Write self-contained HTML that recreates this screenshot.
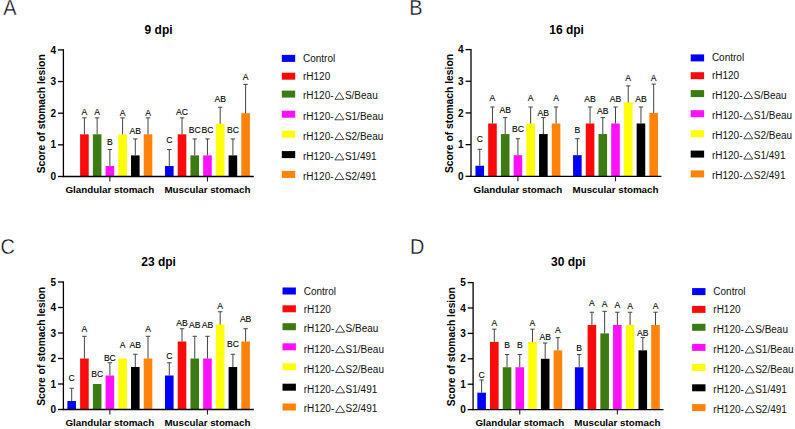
<!DOCTYPE html>
<html><head><meta charset="utf-8"><style>
html,body{margin:0;padding:0;background:#fff;}
body{width:795px;height:429px;overflow:hidden;}
svg{display:block;font-family:"Liberation Sans", sans-serif;}
</style></head><body>
<svg width="795" height="429" viewBox="0 0 795 429">
<rect x="0" y="0" width="795" height="429" fill="#fff"/>
<text x="0" y="0" transform="translate(3.3,15.0) scale(0.95,1.07)" font-size="21" fill="#0a0a14" stroke="#fff" stroke-width="0.35">A</text>
<text x="158.60" y="34.00" font-size="12" font-weight="bold" text-anchor="middle" fill="#000">9 dpi</text>
<text x="0" y="0" transform="translate(45.10,113.80) rotate(-90)" font-size="10.3" font-weight="bold" text-anchor="middle" fill="#000">Score of stomach lesion</text>
<line x1="58.00" y1="176.50" x2="63.40" y2="176.50" stroke="#000" stroke-width="1.3"/>
<text x="56.00" y="180.10" font-size="10" font-weight="bold" text-anchor="end" fill="#000">0</text>
<line x1="58.00" y1="144.85" x2="63.40" y2="144.85" stroke="#000" stroke-width="1.3"/>
<text x="56.00" y="148.45" font-size="10" font-weight="bold" text-anchor="end" fill="#000">1</text>
<line x1="58.00" y1="113.20" x2="63.40" y2="113.20" stroke="#000" stroke-width="1.3"/>
<text x="56.00" y="116.80" font-size="10" font-weight="bold" text-anchor="end" fill="#000">2</text>
<line x1="58.00" y1="81.55" x2="63.40" y2="81.55" stroke="#000" stroke-width="1.3"/>
<text x="56.00" y="85.15" font-size="10" font-weight="bold" text-anchor="end" fill="#000">3</text>
<line x1="58.00" y1="49.90" x2="63.40" y2="49.90" stroke="#000" stroke-width="1.3"/>
<text x="56.00" y="53.50" font-size="10" font-weight="bold" text-anchor="end" fill="#000">4</text>
<rect x="80.12" y="134.31" width="8.6" height="42.19" fill="#fa0a0a"/>
<line x1="84.42" y1="117.85" x2="84.42" y2="134.31" stroke="#444" stroke-width="1"/>
<line x1="82.22" y1="117.85" x2="86.62" y2="117.85" stroke="#444" stroke-width="1"/>
<text x="84.42" y="115.00" font-size="8.6" text-anchor="middle" fill="#000" stroke="#000" stroke-width="0.1">A</text>
<rect x="92.84" y="134.31" width="8.6" height="42.19" fill="#3c7a14"/>
<line x1="97.14" y1="117.85" x2="97.14" y2="134.31" stroke="#444" stroke-width="1"/>
<line x1="94.94" y1="117.85" x2="99.34" y2="117.85" stroke="#444" stroke-width="1"/>
<text x="97.14" y="115.00" font-size="8.6" text-anchor="middle" fill="#000" stroke="#000" stroke-width="0.1">A</text>
<rect x="105.56" y="165.96" width="8.6" height="10.54" fill="#ff10ff"/>
<line x1="109.86" y1="149.50" x2="109.86" y2="165.96" stroke="#444" stroke-width="1"/>
<line x1="107.66" y1="149.50" x2="112.06" y2="149.50" stroke="#444" stroke-width="1"/>
<text x="109.86" y="145.40" font-size="8.6" text-anchor="middle" fill="#000" stroke="#000" stroke-width="0.1">B</text>
<rect x="118.28" y="134.31" width="8.6" height="42.19" fill="#ffff0a"/>
<line x1="122.58" y1="117.85" x2="122.58" y2="134.31" stroke="#444" stroke-width="1"/>
<line x1="120.38" y1="117.85" x2="124.78" y2="117.85" stroke="#444" stroke-width="1"/>
<text x="122.58" y="115.50" font-size="8.6" text-anchor="middle" fill="#000" stroke="#000" stroke-width="0.1">A</text>
<rect x="131.00" y="155.39" width="8.6" height="21.11" fill="#000000"/>
<line x1="135.30" y1="138.93" x2="135.30" y2="155.39" stroke="#444" stroke-width="1"/>
<line x1="133.10" y1="138.93" x2="137.50" y2="138.93" stroke="#444" stroke-width="1"/>
<text x="135.30" y="133.70" font-size="8.6" text-anchor="middle" fill="#000" stroke="#000" stroke-width="0.1">AB</text>
<rect x="143.72" y="134.31" width="8.6" height="42.19" fill="#ff820a"/>
<line x1="148.02" y1="117.85" x2="148.02" y2="134.31" stroke="#444" stroke-width="1"/>
<line x1="145.82" y1="117.85" x2="150.22" y2="117.85" stroke="#444" stroke-width="1"/>
<text x="148.02" y="115.50" font-size="8.6" text-anchor="middle" fill="#000" stroke="#000" stroke-width="0.1">A</text>
<line x1="109.86" y1="176.50" x2="109.86" y2="181.50" stroke="#222" stroke-width="1.1"/>
<text x="109.86" y="193.10" font-size="9.8" font-weight="bold" text-anchor="middle" fill="#000">Glandular stomach</text>
<rect x="165.00" y="165.96" width="8.6" height="10.54" fill="#0000fa"/>
<line x1="169.30" y1="149.50" x2="169.30" y2="165.96" stroke="#444" stroke-width="1"/>
<line x1="167.10" y1="149.50" x2="171.50" y2="149.50" stroke="#444" stroke-width="1"/>
<text x="169.30" y="143.10" font-size="8.6" text-anchor="middle" fill="#000" stroke="#000" stroke-width="0.1">C</text>
<rect x="177.72" y="134.31" width="8.6" height="42.19" fill="#fa0a0a"/>
<line x1="182.02" y1="117.85" x2="182.02" y2="134.31" stroke="#444" stroke-width="1"/>
<line x1="179.82" y1="117.85" x2="184.22" y2="117.85" stroke="#444" stroke-width="1"/>
<text x="182.02" y="114.90" font-size="8.6" text-anchor="middle" fill="#000" stroke="#000" stroke-width="0.1">AC</text>
<rect x="190.44" y="155.39" width="8.6" height="21.11" fill="#3c7a14"/>
<line x1="194.74" y1="138.93" x2="194.74" y2="155.39" stroke="#444" stroke-width="1"/>
<line x1="192.54" y1="138.93" x2="196.94" y2="138.93" stroke="#444" stroke-width="1"/>
<text x="194.74" y="132.70" font-size="8.6" text-anchor="middle" fill="#000" stroke="#000" stroke-width="0.1">BC</text>
<rect x="203.16" y="155.39" width="8.6" height="21.11" fill="#ff10ff"/>
<line x1="207.46" y1="138.93" x2="207.46" y2="155.39" stroke="#444" stroke-width="1"/>
<line x1="205.26" y1="138.93" x2="209.66" y2="138.93" stroke="#444" stroke-width="1"/>
<text x="207.46" y="132.70" font-size="8.6" text-anchor="middle" fill="#000" stroke="#000" stroke-width="0.1">BC</text>
<rect x="215.88" y="123.74" width="8.6" height="52.76" fill="#ffff0a"/>
<line x1="220.18" y1="107.28" x2="220.18" y2="123.74" stroke="#444" stroke-width="1"/>
<line x1="217.98" y1="107.28" x2="222.38" y2="107.28" stroke="#444" stroke-width="1"/>
<text x="220.18" y="102.20" font-size="8.6" text-anchor="middle" fill="#000" stroke="#000" stroke-width="0.1">AB</text>
<rect x="228.60" y="155.39" width="8.6" height="21.11" fill="#000000"/>
<line x1="232.90" y1="138.93" x2="232.90" y2="155.39" stroke="#444" stroke-width="1"/>
<line x1="230.70" y1="138.93" x2="235.10" y2="138.93" stroke="#444" stroke-width="1"/>
<text x="232.90" y="133.20" font-size="8.6" text-anchor="middle" fill="#000" stroke="#000" stroke-width="0.1">BC</text>
<rect x="241.32" y="113.20" width="8.6" height="63.30" fill="#ff820a"/>
<line x1="245.62" y1="84.40" x2="245.62" y2="113.20" stroke="#444" stroke-width="1"/>
<line x1="243.42" y1="84.40" x2="247.82" y2="84.40" stroke="#444" stroke-width="1"/>
<text x="245.62" y="79.90" font-size="8.6" text-anchor="middle" fill="#000" stroke="#000" stroke-width="0.1">A</text>
<line x1="207.46" y1="176.50" x2="207.46" y2="181.50" stroke="#222" stroke-width="1.1"/>
<text x="207.46" y="193.10" font-size="9.8" font-weight="bold" text-anchor="middle" fill="#000">Muscular stomach</text>
<line x1="63.40" y1="49.25" x2="63.40" y2="177.15" stroke="#000" stroke-width="1.3"/>
<line x1="62.75" y1="176.50" x2="253.80" y2="176.50" stroke="#000" stroke-width="1.3"/>
<rect x="281.80" y="54.90" width="13.4" height="7" fill="#0000fa"/>
<text x="303.00" y="62.00" font-size="10" fill="#111">Control</text>
<rect x="281.80" y="72.70" width="13.4" height="7" fill="#fa0a0a"/>
<text x="303.00" y="79.80" font-size="10" fill="#111">rH120</text>
<rect x="281.80" y="90.60" width="13.4" height="7" fill="#3c7a14"/>
<text x="303.00" y="99.30" font-size="10" fill="#111">rH120-</text>
<polygon points="334.90,99.30 343.90,99.30 339.40,92.50" fill="none" stroke="#1a1a1a" stroke-width="0.8"/>
<text x="344.90" y="99.30" font-size="10" fill="#111">S/Beau</text>
<rect x="281.80" y="110.70" width="13.4" height="7" fill="#ff10ff"/>
<text x="303.00" y="119.80" font-size="10" fill="#111">rH120-</text>
<polygon points="334.90,119.80 343.90,119.80 339.40,113.00" fill="none" stroke="#1a1a1a" stroke-width="0.8"/>
<text x="344.90" y="119.80" font-size="10" fill="#111">S1/Beau</text>
<rect x="281.80" y="130.70" width="13.4" height="7" fill="#ffff0a"/>
<text x="303.00" y="139.60" font-size="10" fill="#111">rH120-</text>
<polygon points="334.90,139.60 343.90,139.60 339.40,132.80" fill="none" stroke="#1a1a1a" stroke-width="0.8"/>
<text x="344.90" y="139.60" font-size="10" fill="#111">S2/Beau</text>
<rect x="281.80" y="151.10" width="13.4" height="7" fill="#000000"/>
<text x="303.00" y="159.90" font-size="10" fill="#111">rH120-</text>
<polygon points="334.90,159.90 343.90,159.90 339.40,153.10" fill="none" stroke="#1a1a1a" stroke-width="0.8"/>
<text x="344.90" y="159.90" font-size="10" fill="#111">S1/491</text>
<rect x="281.80" y="170.90" width="13.4" height="7" fill="#ff820a"/>
<text x="303.00" y="179.50" font-size="10" fill="#111">rH120-</text>
<polygon points="334.90,179.50 343.90,179.50 339.40,172.70" fill="none" stroke="#1a1a1a" stroke-width="0.8"/>
<text x="344.90" y="179.50" font-size="10" fill="#111">S2/491</text>
<text x="0" y="0" transform="translate(409.3,15.0) scale(0.95,1.07)" font-size="21" fill="#0a0a14" stroke="#fff" stroke-width="0.35">B</text>
<text x="566.60" y="34.40" font-size="12" font-weight="bold" text-anchor="middle" fill="#000">16 dpi</text>
<text x="0" y="0" transform="translate(452.70,113.54) rotate(-90)" font-size="10.3" font-weight="bold" text-anchor="middle" fill="#000">Score of stomach lesion</text>
<line x1="465.60" y1="176.30" x2="471.00" y2="176.30" stroke="#000" stroke-width="1.3"/>
<text x="463.60" y="179.90" font-size="10" font-weight="bold" text-anchor="end" fill="#000">0</text>
<line x1="465.60" y1="144.62" x2="471.00" y2="144.62" stroke="#000" stroke-width="1.3"/>
<text x="463.60" y="148.22" font-size="10" font-weight="bold" text-anchor="end" fill="#000">1</text>
<line x1="465.60" y1="112.94" x2="471.00" y2="112.94" stroke="#000" stroke-width="1.3"/>
<text x="463.60" y="116.54" font-size="10" font-weight="bold" text-anchor="end" fill="#000">2</text>
<line x1="465.60" y1="81.26" x2="471.00" y2="81.26" stroke="#000" stroke-width="1.3"/>
<text x="463.60" y="84.86" font-size="10" font-weight="bold" text-anchor="end" fill="#000">3</text>
<line x1="465.60" y1="49.58" x2="471.00" y2="49.58" stroke="#000" stroke-width="1.3"/>
<text x="463.60" y="53.18" font-size="10" font-weight="bold" text-anchor="end" fill="#000">4</text>
<rect x="475.45" y="165.75" width="8.6" height="10.55" fill="#0000fa"/>
<line x1="479.75" y1="149.28" x2="479.75" y2="165.75" stroke="#444" stroke-width="1"/>
<line x1="477.55" y1="149.28" x2="481.95" y2="149.28" stroke="#444" stroke-width="1"/>
<text x="479.75" y="142.10" font-size="8.6" text-anchor="middle" fill="#000" stroke="#000" stroke-width="0.1">C</text>
<rect x="488.17" y="123.49" width="8.6" height="52.81" fill="#fa0a0a"/>
<line x1="492.47" y1="107.02" x2="492.47" y2="123.49" stroke="#444" stroke-width="1"/>
<line x1="490.27" y1="107.02" x2="494.67" y2="107.02" stroke="#444" stroke-width="1"/>
<text x="492.47" y="101.30" font-size="8.6" text-anchor="middle" fill="#000" stroke="#000" stroke-width="0.1">A</text>
<rect x="500.89" y="134.07" width="8.6" height="42.23" fill="#3c7a14"/>
<line x1="505.19" y1="117.60" x2="505.19" y2="134.07" stroke="#444" stroke-width="1"/>
<line x1="502.99" y1="117.60" x2="507.39" y2="117.60" stroke="#444" stroke-width="1"/>
<text x="505.19" y="113.40" font-size="8.6" text-anchor="middle" fill="#000" stroke="#000" stroke-width="0.1">AB</text>
<rect x="513.61" y="155.17" width="8.6" height="21.13" fill="#ff10ff"/>
<line x1="517.91" y1="138.70" x2="517.91" y2="155.17" stroke="#444" stroke-width="1"/>
<line x1="515.71" y1="138.70" x2="520.11" y2="138.70" stroke="#444" stroke-width="1"/>
<text x="517.91" y="132.00" font-size="8.6" text-anchor="middle" fill="#000" stroke="#000" stroke-width="0.1">BC</text>
<rect x="526.33" y="123.49" width="8.6" height="52.81" fill="#ffff0a"/>
<line x1="530.63" y1="107.02" x2="530.63" y2="123.49" stroke="#444" stroke-width="1"/>
<line x1="528.43" y1="107.02" x2="532.83" y2="107.02" stroke="#444" stroke-width="1"/>
<text x="530.63" y="101.30" font-size="8.6" text-anchor="middle" fill="#000" stroke="#000" stroke-width="0.1">A</text>
<rect x="539.05" y="134.07" width="8.6" height="42.23" fill="#000000"/>
<line x1="543.35" y1="117.60" x2="543.35" y2="134.07" stroke="#444" stroke-width="1"/>
<line x1="541.15" y1="117.60" x2="545.55" y2="117.60" stroke="#444" stroke-width="1"/>
<text x="543.35" y="115.50" font-size="8.6" text-anchor="middle" fill="#000" stroke="#000" stroke-width="0.1">AB</text>
<rect x="551.77" y="123.49" width="8.6" height="52.81" fill="#ff820a"/>
<line x1="556.07" y1="107.02" x2="556.07" y2="123.49" stroke="#444" stroke-width="1"/>
<line x1="553.87" y1="107.02" x2="558.27" y2="107.02" stroke="#444" stroke-width="1"/>
<text x="556.07" y="101.30" font-size="8.6" text-anchor="middle" fill="#000" stroke="#000" stroke-width="0.1">A</text>
<line x1="517.91" y1="176.30" x2="517.91" y2="181.30" stroke="#222" stroke-width="1.1"/>
<text x="517.91" y="192.90" font-size="9.8" font-weight="bold" text-anchor="middle" fill="#000">Glandular stomach</text>
<rect x="573.05" y="155.17" width="8.6" height="21.13" fill="#0000fa"/>
<line x1="577.35" y1="138.70" x2="577.35" y2="155.17" stroke="#444" stroke-width="1"/>
<line x1="575.15" y1="138.70" x2="579.55" y2="138.70" stroke="#444" stroke-width="1"/>
<text x="577.35" y="132.70" font-size="8.6" text-anchor="middle" fill="#000" stroke="#000" stroke-width="0.1">B</text>
<rect x="585.77" y="123.49" width="8.6" height="52.81" fill="#fa0a0a"/>
<line x1="590.07" y1="107.02" x2="590.07" y2="123.49" stroke="#444" stroke-width="1"/>
<line x1="587.87" y1="107.02" x2="592.27" y2="107.02" stroke="#444" stroke-width="1"/>
<text x="590.07" y="102.00" font-size="8.6" text-anchor="middle" fill="#000" stroke="#000" stroke-width="0.1">AB</text>
<rect x="598.49" y="134.07" width="8.6" height="42.23" fill="#3c7a14"/>
<line x1="602.79" y1="117.60" x2="602.79" y2="134.07" stroke="#444" stroke-width="1"/>
<line x1="600.59" y1="117.60" x2="604.99" y2="117.60" stroke="#444" stroke-width="1"/>
<text x="602.79" y="113.60" font-size="8.6" text-anchor="middle" fill="#000" stroke="#000" stroke-width="0.1">AB</text>
<rect x="611.21" y="123.49" width="8.6" height="52.81" fill="#ff10ff"/>
<line x1="615.51" y1="107.02" x2="615.51" y2="123.49" stroke="#444" stroke-width="1"/>
<line x1="613.31" y1="107.02" x2="617.71" y2="107.02" stroke="#444" stroke-width="1"/>
<text x="615.51" y="102.00" font-size="8.6" text-anchor="middle" fill="#000" stroke="#000" stroke-width="0.1">AB</text>
<rect x="623.93" y="102.39" width="8.6" height="73.91" fill="#ffff0a"/>
<line x1="628.23" y1="85.92" x2="628.23" y2="102.39" stroke="#444" stroke-width="1"/>
<line x1="626.03" y1="85.92" x2="630.43" y2="85.92" stroke="#444" stroke-width="1"/>
<text x="628.23" y="80.50" font-size="8.6" text-anchor="middle" fill="#000" stroke="#000" stroke-width="0.1">A</text>
<rect x="636.65" y="123.49" width="8.6" height="52.81" fill="#000000"/>
<line x1="640.95" y1="107.02" x2="640.95" y2="123.49" stroke="#444" stroke-width="1"/>
<line x1="638.75" y1="107.02" x2="643.15" y2="107.02" stroke="#444" stroke-width="1"/>
<text x="640.95" y="102.00" font-size="8.6" text-anchor="middle" fill="#000" stroke="#000" stroke-width="0.1">AB</text>
<rect x="649.37" y="112.94" width="8.6" height="63.36" fill="#ff820a"/>
<line x1="653.67" y1="84.11" x2="653.67" y2="112.94" stroke="#444" stroke-width="1"/>
<line x1="651.47" y1="84.11" x2="655.87" y2="84.11" stroke="#444" stroke-width="1"/>
<text x="653.67" y="80.50" font-size="8.6" text-anchor="middle" fill="#000" stroke="#000" stroke-width="0.1">A</text>
<line x1="615.51" y1="176.30" x2="615.51" y2="181.30" stroke="#222" stroke-width="1.1"/>
<text x="615.51" y="192.90" font-size="9.8" font-weight="bold" text-anchor="middle" fill="#000">Muscular stomach</text>
<line x1="471.00" y1="48.93" x2="471.00" y2="176.95" stroke="#000" stroke-width="1.3"/>
<line x1="470.35" y1="176.30" x2="661.40" y2="176.30" stroke="#000" stroke-width="1.3"/>
<rect x="690.70" y="54.40" width="13.4" height="7" fill="#0000fa"/>
<text x="711.90" y="61.20" font-size="10" fill="#111">Control</text>
<rect x="690.70" y="72.20" width="13.4" height="7" fill="#fa0a0a"/>
<text x="711.90" y="79.00" font-size="10" fill="#111">rH120</text>
<rect x="690.70" y="90.10" width="13.4" height="7" fill="#3c7a14"/>
<text x="711.90" y="98.50" font-size="10" fill="#111">rH120-</text>
<polygon points="743.80,98.50 752.80,98.50 748.30,91.70" fill="none" stroke="#1a1a1a" stroke-width="0.8"/>
<text x="753.80" y="98.50" font-size="10" fill="#111">S/Beau</text>
<rect x="690.70" y="110.20" width="13.4" height="7" fill="#ff10ff"/>
<text x="711.90" y="119.00" font-size="10" fill="#111">rH120-</text>
<polygon points="743.80,119.00 752.80,119.00 748.30,112.20" fill="none" stroke="#1a1a1a" stroke-width="0.8"/>
<text x="753.80" y="119.00" font-size="10" fill="#111">S1/Beau</text>
<rect x="690.70" y="130.20" width="13.4" height="7" fill="#ffff0a"/>
<text x="711.90" y="138.80" font-size="10" fill="#111">rH120-</text>
<polygon points="743.80,138.80 752.80,138.80 748.30,132.00" fill="none" stroke="#1a1a1a" stroke-width="0.8"/>
<text x="753.80" y="138.80" font-size="10" fill="#111">S2/Beau</text>
<rect x="690.70" y="150.60" width="13.4" height="7" fill="#000000"/>
<text x="711.90" y="159.10" font-size="10" fill="#111">rH120-</text>
<polygon points="743.80,159.10 752.80,159.10 748.30,152.30" fill="none" stroke="#1a1a1a" stroke-width="0.8"/>
<text x="753.80" y="159.10" font-size="10" fill="#111">S1/491</text>
<rect x="690.70" y="170.40" width="13.4" height="7" fill="#ff820a"/>
<text x="711.90" y="178.70" font-size="10" fill="#111">rH120-</text>
<polygon points="743.80,178.70 752.80,178.70 748.30,171.90" fill="none" stroke="#1a1a1a" stroke-width="0.8"/>
<text x="753.80" y="178.70" font-size="10" fill="#111">S2/491</text>
<text x="0" y="0" transform="translate(0.6,254.3) scale(0.95,1.07)" font-size="21" fill="#0a0a14" stroke="#fff" stroke-width="0.35">C</text>
<text x="158.60" y="266.00" font-size="12" font-weight="bold" text-anchor="middle" fill="#000">23 dpi</text>
<text x="0" y="0" transform="translate(45.10,346.35) rotate(-90)" font-size="10.3" font-weight="bold" text-anchor="middle" fill="#000">Score of stomach lesion</text>
<line x1="58.00" y1="409.50" x2="63.40" y2="409.50" stroke="#000" stroke-width="1.3"/>
<text x="56.00" y="413.10" font-size="10" font-weight="bold" text-anchor="end" fill="#000">0</text>
<line x1="58.00" y1="384.00" x2="63.40" y2="384.00" stroke="#000" stroke-width="1.3"/>
<text x="56.00" y="387.60" font-size="10" font-weight="bold" text-anchor="end" fill="#000">1</text>
<line x1="58.00" y1="358.50" x2="63.40" y2="358.50" stroke="#000" stroke-width="1.3"/>
<text x="56.00" y="362.10" font-size="10" font-weight="bold" text-anchor="end" fill="#000">2</text>
<line x1="58.00" y1="333.00" x2="63.40" y2="333.00" stroke="#000" stroke-width="1.3"/>
<text x="56.00" y="336.60" font-size="10" font-weight="bold" text-anchor="end" fill="#000">3</text>
<line x1="58.00" y1="307.50" x2="63.40" y2="307.50" stroke="#000" stroke-width="1.3"/>
<text x="56.00" y="311.10" font-size="10" font-weight="bold" text-anchor="end" fill="#000">4</text>
<line x1="58.00" y1="282.00" x2="63.40" y2="282.00" stroke="#000" stroke-width="1.3"/>
<text x="56.00" y="285.60" font-size="10" font-weight="bold" text-anchor="end" fill="#000">5</text>
<rect x="67.40" y="401.01" width="8.6" height="8.49" fill="#0000fa"/>
<line x1="71.70" y1="388.26" x2="71.70" y2="401.01" stroke="#444" stroke-width="1"/>
<line x1="69.50" y1="388.26" x2="73.90" y2="388.26" stroke="#444" stroke-width="1"/>
<text x="71.70" y="380.60" font-size="8.6" text-anchor="middle" fill="#000" stroke="#000" stroke-width="0.1">C</text>
<rect x="80.12" y="358.50" width="8.6" height="51.00" fill="#fa0a0a"/>
<line x1="84.42" y1="336.31" x2="84.42" y2="358.50" stroke="#444" stroke-width="1"/>
<line x1="82.22" y1="336.31" x2="86.62" y2="336.31" stroke="#444" stroke-width="1"/>
<text x="84.42" y="331.80" font-size="8.6" text-anchor="middle" fill="#000" stroke="#000" stroke-width="0.1">A</text>
<rect x="92.84" y="384.00" width="8.6" height="25.50" fill="#3c7a14"/>
<text x="97.14" y="377.00" font-size="8.6" text-anchor="middle" fill="#000" stroke="#000" stroke-width="0.1">BC</text>
<rect x="105.56" y="375.51" width="8.6" height="33.99" fill="#ff10ff"/>
<line x1="109.86" y1="362.76" x2="109.86" y2="375.51" stroke="#444" stroke-width="1"/>
<line x1="107.66" y1="362.76" x2="112.06" y2="362.76" stroke="#444" stroke-width="1"/>
<text x="109.86" y="360.80" font-size="8.6" text-anchor="middle" fill="#000" stroke="#000" stroke-width="0.1">BC</text>
<rect x="118.28" y="358.50" width="8.6" height="51.00" fill="#ffff0a"/>
<text x="122.58" y="347.60" font-size="8.6" text-anchor="middle" fill="#000" stroke="#000" stroke-width="0.1">A</text>
<rect x="131.00" y="366.99" width="8.6" height="42.51" fill="#000000"/>
<line x1="135.30" y1="354.24" x2="135.30" y2="366.99" stroke="#444" stroke-width="1"/>
<line x1="133.10" y1="354.24" x2="137.50" y2="354.24" stroke="#444" stroke-width="1"/>
<text x="135.30" y="347.60" font-size="8.6" text-anchor="middle" fill="#000" stroke="#000" stroke-width="0.1">AB</text>
<rect x="143.72" y="358.50" width="8.6" height="51.00" fill="#ff820a"/>
<line x1="148.02" y1="336.31" x2="148.02" y2="358.50" stroke="#444" stroke-width="1"/>
<line x1="145.82" y1="336.31" x2="150.22" y2="336.31" stroke="#444" stroke-width="1"/>
<text x="148.02" y="331.80" font-size="8.6" text-anchor="middle" fill="#000" stroke="#000" stroke-width="0.1">A</text>
<line x1="109.86" y1="409.50" x2="109.86" y2="414.50" stroke="#222" stroke-width="1.1"/>
<text x="109.86" y="426.10" font-size="9.8" font-weight="bold" text-anchor="middle" fill="#000">Glandular stomach</text>
<rect x="165.00" y="375.51" width="8.6" height="33.99" fill="#0000fa"/>
<line x1="169.30" y1="362.76" x2="169.30" y2="375.51" stroke="#444" stroke-width="1"/>
<line x1="167.10" y1="362.76" x2="171.50" y2="362.76" stroke="#444" stroke-width="1"/>
<text x="169.30" y="359.20" font-size="8.6" text-anchor="middle" fill="#000" stroke="#000" stroke-width="0.1">C</text>
<rect x="177.72" y="341.49" width="8.6" height="68.01" fill="#fa0a0a"/>
<line x1="182.02" y1="328.74" x2="182.02" y2="341.49" stroke="#444" stroke-width="1"/>
<line x1="179.82" y1="328.74" x2="184.22" y2="328.74" stroke="#444" stroke-width="1"/>
<text x="182.02" y="326.00" font-size="8.6" text-anchor="middle" fill="#000" stroke="#000" stroke-width="0.1">AB</text>
<rect x="190.44" y="358.50" width="8.6" height="51.00" fill="#3c7a14"/>
<line x1="194.74" y1="336.31" x2="194.74" y2="358.50" stroke="#444" stroke-width="1"/>
<line x1="192.54" y1="336.31" x2="196.94" y2="336.31" stroke="#444" stroke-width="1"/>
<text x="194.74" y="327.90" font-size="8.6" text-anchor="middle" fill="#000" stroke="#000" stroke-width="0.1">AB</text>
<rect x="203.16" y="358.50" width="8.6" height="51.00" fill="#ff10ff"/>
<line x1="207.46" y1="336.31" x2="207.46" y2="358.50" stroke="#444" stroke-width="1"/>
<line x1="205.26" y1="336.31" x2="209.66" y2="336.31" stroke="#444" stroke-width="1"/>
<text x="207.46" y="328.20" font-size="8.6" text-anchor="middle" fill="#000" stroke="#000" stroke-width="0.1">AB</text>
<rect x="215.88" y="324.51" width="8.6" height="84.99" fill="#ffff0a"/>
<line x1="220.18" y1="311.76" x2="220.18" y2="324.51" stroke="#444" stroke-width="1"/>
<line x1="217.98" y1="311.76" x2="222.38" y2="311.76" stroke="#444" stroke-width="1"/>
<text x="220.18" y="308.90" font-size="8.6" text-anchor="middle" fill="#000" stroke="#000" stroke-width="0.1">A</text>
<rect x="228.60" y="366.99" width="8.6" height="42.51" fill="#000000"/>
<line x1="232.90" y1="354.24" x2="232.90" y2="366.99" stroke="#444" stroke-width="1"/>
<line x1="230.70" y1="354.24" x2="235.10" y2="354.24" stroke="#444" stroke-width="1"/>
<text x="232.90" y="346.50" font-size="8.6" text-anchor="middle" fill="#000" stroke="#000" stroke-width="0.1">BC</text>
<rect x="241.32" y="341.49" width="8.6" height="68.01" fill="#ff820a"/>
<line x1="245.62" y1="328.74" x2="245.62" y2="341.49" stroke="#444" stroke-width="1"/>
<line x1="243.42" y1="328.74" x2="247.82" y2="328.74" stroke="#444" stroke-width="1"/>
<text x="245.62" y="321.70" font-size="8.6" text-anchor="middle" fill="#000" stroke="#000" stroke-width="0.1">AB</text>
<line x1="207.46" y1="409.50" x2="207.46" y2="414.50" stroke="#222" stroke-width="1.1"/>
<text x="207.46" y="426.10" font-size="9.8" font-weight="bold" text-anchor="middle" fill="#000">Muscular stomach</text>
<line x1="63.40" y1="281.35" x2="63.40" y2="410.15" stroke="#000" stroke-width="1.3"/>
<line x1="62.75" y1="409.50" x2="253.80" y2="409.50" stroke="#000" stroke-width="1.3"/>
<rect x="282.50" y="287.50" width="13.4" height="7" fill="#0000fa"/>
<text x="303.70" y="294.90" font-size="10" fill="#111">Control</text>
<rect x="282.50" y="305.30" width="13.4" height="7" fill="#fa0a0a"/>
<text x="303.70" y="312.70" font-size="10" fill="#111">rH120</text>
<rect x="282.50" y="323.20" width="13.4" height="7" fill="#3c7a14"/>
<text x="303.70" y="332.20" font-size="10" fill="#111">rH120-</text>
<polygon points="335.60,332.20 344.60,332.20 340.10,325.40" fill="none" stroke="#1a1a1a" stroke-width="0.8"/>
<text x="345.60" y="332.20" font-size="10" fill="#111">S/Beau</text>
<rect x="282.50" y="343.30" width="13.4" height="7" fill="#ff10ff"/>
<text x="303.70" y="352.70" font-size="10" fill="#111">rH120-</text>
<polygon points="335.60,352.70 344.60,352.70 340.10,345.90" fill="none" stroke="#1a1a1a" stroke-width="0.8"/>
<text x="345.60" y="352.70" font-size="10" fill="#111">S1/Beau</text>
<rect x="282.50" y="363.30" width="13.4" height="7" fill="#ffff0a"/>
<text x="303.70" y="372.50" font-size="10" fill="#111">rH120-</text>
<polygon points="335.60,372.50 344.60,372.50 340.10,365.70" fill="none" stroke="#1a1a1a" stroke-width="0.8"/>
<text x="345.60" y="372.50" font-size="10" fill="#111">S2/Beau</text>
<rect x="282.50" y="383.70" width="13.4" height="7" fill="#000000"/>
<text x="303.70" y="392.80" font-size="10" fill="#111">rH120-</text>
<polygon points="335.60,392.80 344.60,392.80 340.10,386.00" fill="none" stroke="#1a1a1a" stroke-width="0.8"/>
<text x="345.60" y="392.80" font-size="10" fill="#111">S1/491</text>
<rect x="282.50" y="403.50" width="13.4" height="7" fill="#ff820a"/>
<text x="303.70" y="412.40" font-size="10" fill="#111">rH120-</text>
<polygon points="335.60,412.40 344.60,412.40 340.10,405.60" fill="none" stroke="#1a1a1a" stroke-width="0.8"/>
<text x="345.60" y="412.40" font-size="10" fill="#111">S2/491</text>
<text x="0" y="0" transform="translate(410.1,254.1) scale(0.95,1.07)" font-size="21" fill="#0a0a14" stroke="#fff" stroke-width="0.35">D</text>
<text x="568.30" y="266.10" font-size="12" font-weight="bold" text-anchor="middle" fill="#000">30 dpi</text>
<text x="0" y="0" transform="translate(454.80,346.70) rotate(-90)" font-size="10.3" font-weight="bold" text-anchor="middle" fill="#000">Score of stomach lesion</text>
<line x1="467.70" y1="409.60" x2="473.10" y2="409.60" stroke="#000" stroke-width="1.3"/>
<text x="465.70" y="413.20" font-size="10" font-weight="bold" text-anchor="end" fill="#000">0</text>
<line x1="467.70" y1="384.20" x2="473.10" y2="384.20" stroke="#000" stroke-width="1.3"/>
<text x="465.70" y="387.80" font-size="10" font-weight="bold" text-anchor="end" fill="#000">1</text>
<line x1="467.70" y1="358.80" x2="473.10" y2="358.80" stroke="#000" stroke-width="1.3"/>
<text x="465.70" y="362.40" font-size="10" font-weight="bold" text-anchor="end" fill="#000">2</text>
<line x1="467.70" y1="333.40" x2="473.10" y2="333.40" stroke="#000" stroke-width="1.3"/>
<text x="465.70" y="337.00" font-size="10" font-weight="bold" text-anchor="end" fill="#000">3</text>
<line x1="467.70" y1="308.00" x2="473.10" y2="308.00" stroke="#000" stroke-width="1.3"/>
<text x="465.70" y="311.60" font-size="10" font-weight="bold" text-anchor="end" fill="#000">4</text>
<line x1="467.70" y1="282.60" x2="473.10" y2="282.60" stroke="#000" stroke-width="1.3"/>
<text x="465.70" y="286.20" font-size="10" font-weight="bold" text-anchor="end" fill="#000">5</text>
<rect x="477.30" y="392.66" width="8.6" height="16.94" fill="#0000fa"/>
<line x1="481.60" y1="379.96" x2="481.60" y2="392.66" stroke="#444" stroke-width="1"/>
<line x1="479.40" y1="379.96" x2="483.80" y2="379.96" stroke="#444" stroke-width="1"/>
<text x="481.60" y="377.60" font-size="8.6" text-anchor="middle" fill="#000" stroke="#000" stroke-width="0.1">C</text>
<rect x="490.02" y="341.86" width="8.6" height="67.74" fill="#fa0a0a"/>
<line x1="494.32" y1="329.16" x2="494.32" y2="341.86" stroke="#444" stroke-width="1"/>
<line x1="492.12" y1="329.16" x2="496.52" y2="329.16" stroke="#444" stroke-width="1"/>
<text x="494.32" y="326.20" font-size="8.6" text-anchor="middle" fill="#000" stroke="#000" stroke-width="0.1">A</text>
<rect x="502.74" y="367.26" width="8.6" height="42.34" fill="#3c7a14"/>
<line x1="507.04" y1="354.56" x2="507.04" y2="367.26" stroke="#444" stroke-width="1"/>
<line x1="504.84" y1="354.56" x2="509.24" y2="354.56" stroke="#444" stroke-width="1"/>
<text x="507.04" y="347.80" font-size="8.6" text-anchor="middle" fill="#000" stroke="#000" stroke-width="0.1">B</text>
<rect x="515.46" y="367.26" width="8.6" height="42.34" fill="#ff10ff"/>
<line x1="519.76" y1="354.56" x2="519.76" y2="367.26" stroke="#444" stroke-width="1"/>
<line x1="517.56" y1="354.56" x2="521.96" y2="354.56" stroke="#444" stroke-width="1"/>
<text x="519.76" y="347.80" font-size="8.6" text-anchor="middle" fill="#000" stroke="#000" stroke-width="0.1">B</text>
<rect x="528.18" y="341.86" width="8.6" height="67.74" fill="#ffff0a"/>
<line x1="532.48" y1="329.16" x2="532.48" y2="341.86" stroke="#444" stroke-width="1"/>
<line x1="530.28" y1="329.16" x2="534.68" y2="329.16" stroke="#444" stroke-width="1"/>
<text x="532.48" y="326.20" font-size="8.6" text-anchor="middle" fill="#000" stroke="#000" stroke-width="0.1">A</text>
<rect x="540.90" y="358.80" width="8.6" height="50.80" fill="#000000"/>
<line x1="545.20" y1="343.05" x2="545.20" y2="358.80" stroke="#444" stroke-width="1"/>
<line x1="543.00" y1="343.05" x2="547.40" y2="343.05" stroke="#444" stroke-width="1"/>
<text x="545.20" y="340.30" font-size="8.6" text-anchor="middle" fill="#000" stroke="#000" stroke-width="0.1">AB</text>
<rect x="553.62" y="350.34" width="8.6" height="59.26" fill="#ff820a"/>
<line x1="557.92" y1="337.64" x2="557.92" y2="350.34" stroke="#444" stroke-width="1"/>
<line x1="555.72" y1="337.64" x2="560.12" y2="337.64" stroke="#444" stroke-width="1"/>
<text x="557.92" y="333.10" font-size="8.6" text-anchor="middle" fill="#000" stroke="#000" stroke-width="0.1">A</text>
<line x1="519.76" y1="409.60" x2="519.76" y2="414.60" stroke="#222" stroke-width="1.1"/>
<text x="519.76" y="426.20" font-size="9.8" font-weight="bold" text-anchor="middle" fill="#000">Glandular stomach</text>
<rect x="574.90" y="367.26" width="8.6" height="42.34" fill="#0000fa"/>
<line x1="579.20" y1="354.56" x2="579.20" y2="367.26" stroke="#444" stroke-width="1"/>
<line x1="577.00" y1="354.56" x2="581.40" y2="354.56" stroke="#444" stroke-width="1"/>
<text x="579.20" y="351.10" font-size="8.6" text-anchor="middle" fill="#000" stroke="#000" stroke-width="0.1">B</text>
<rect x="587.62" y="324.94" width="8.6" height="84.66" fill="#fa0a0a"/>
<line x1="591.92" y1="312.24" x2="591.92" y2="324.94" stroke="#444" stroke-width="1"/>
<line x1="589.72" y1="312.24" x2="594.12" y2="312.24" stroke="#444" stroke-width="1"/>
<text x="591.92" y="306.00" font-size="8.6" text-anchor="middle" fill="#000" stroke="#000" stroke-width="0.1">A</text>
<rect x="600.34" y="333.40" width="8.6" height="76.20" fill="#3c7a14"/>
<line x1="604.64" y1="311.30" x2="604.64" y2="333.40" stroke="#444" stroke-width="1"/>
<line x1="602.44" y1="311.30" x2="606.84" y2="311.30" stroke="#444" stroke-width="1"/>
<text x="604.64" y="307.00" font-size="8.6" text-anchor="middle" fill="#000" stroke="#000" stroke-width="0.1">A</text>
<rect x="613.06" y="324.94" width="8.6" height="84.66" fill="#ff10ff"/>
<line x1="617.36" y1="312.24" x2="617.36" y2="324.94" stroke="#444" stroke-width="1"/>
<line x1="615.16" y1="312.24" x2="619.56" y2="312.24" stroke="#444" stroke-width="1"/>
<text x="617.36" y="308.10" font-size="8.6" text-anchor="middle" fill="#000" stroke="#000" stroke-width="0.1">A</text>
<rect x="625.78" y="324.94" width="8.6" height="84.66" fill="#ffff0a"/>
<line x1="630.08" y1="312.24" x2="630.08" y2="324.94" stroke="#444" stroke-width="1"/>
<line x1="627.88" y1="312.24" x2="632.28" y2="312.24" stroke="#444" stroke-width="1"/>
<text x="630.08" y="309.10" font-size="8.6" text-anchor="middle" fill="#000" stroke="#000" stroke-width="0.1">A</text>
<rect x="638.50" y="350.34" width="8.6" height="59.26" fill="#000000"/>
<line x1="642.80" y1="337.64" x2="642.80" y2="350.34" stroke="#444" stroke-width="1"/>
<line x1="640.60" y1="337.64" x2="645.00" y2="337.64" stroke="#444" stroke-width="1"/>
<text x="642.80" y="336.40" font-size="8.6" text-anchor="middle" fill="#000" stroke="#000" stroke-width="0.1">AB</text>
<rect x="651.22" y="324.94" width="8.6" height="84.66" fill="#ff820a"/>
<line x1="655.52" y1="312.24" x2="655.52" y2="324.94" stroke="#444" stroke-width="1"/>
<line x1="653.32" y1="312.24" x2="657.72" y2="312.24" stroke="#444" stroke-width="1"/>
<text x="655.52" y="309.10" font-size="8.6" text-anchor="middle" fill="#000" stroke="#000" stroke-width="0.1">A</text>
<line x1="617.36" y1="409.60" x2="617.36" y2="414.60" stroke="#222" stroke-width="1.1"/>
<text x="617.36" y="426.20" font-size="9.8" font-weight="bold" text-anchor="middle" fill="#000">Muscular stomach</text>
<line x1="473.10" y1="281.95" x2="473.10" y2="410.25" stroke="#000" stroke-width="1.3"/>
<line x1="472.45" y1="409.60" x2="663.50" y2="409.60" stroke="#000" stroke-width="1.3"/>
<rect x="692.10" y="288.10" width="13.4" height="7" fill="#0000fa"/>
<text x="713.30" y="295.20" font-size="10" fill="#111">Control</text>
<rect x="692.10" y="305.90" width="13.4" height="7" fill="#fa0a0a"/>
<text x="713.30" y="313.00" font-size="10" fill="#111">rH120</text>
<rect x="692.10" y="323.80" width="13.4" height="7" fill="#3c7a14"/>
<text x="713.30" y="332.50" font-size="10" fill="#111">rH120-</text>
<polygon points="745.20,332.50 754.20,332.50 749.70,325.70" fill="none" stroke="#1a1a1a" stroke-width="0.8"/>
<text x="755.20" y="332.50" font-size="10" fill="#111">S/Beau</text>
<rect x="692.10" y="343.90" width="13.4" height="7" fill="#ff10ff"/>
<text x="713.30" y="353.00" font-size="10" fill="#111">rH120-</text>
<polygon points="745.20,353.00 754.20,353.00 749.70,346.20" fill="none" stroke="#1a1a1a" stroke-width="0.8"/>
<text x="755.20" y="353.00" font-size="10" fill="#111">S1/Beau</text>
<rect x="692.10" y="363.90" width="13.4" height="7" fill="#ffff0a"/>
<text x="713.30" y="372.80" font-size="10" fill="#111">rH120-</text>
<polygon points="745.20,372.80 754.20,372.80 749.70,366.00" fill="none" stroke="#1a1a1a" stroke-width="0.8"/>
<text x="755.20" y="372.80" font-size="10" fill="#111">S2/Beau</text>
<rect x="692.10" y="384.30" width="13.4" height="7" fill="#000000"/>
<text x="713.30" y="393.10" font-size="10" fill="#111">rH120-</text>
<polygon points="745.20,393.10 754.20,393.10 749.70,386.30" fill="none" stroke="#1a1a1a" stroke-width="0.8"/>
<text x="755.20" y="393.10" font-size="10" fill="#111">S1/491</text>
<rect x="692.10" y="404.10" width="13.4" height="7" fill="#ff820a"/>
<text x="713.30" y="412.70" font-size="10" fill="#111">rH120-</text>
<polygon points="745.20,412.70 754.20,412.70 749.70,405.90" fill="none" stroke="#1a1a1a" stroke-width="0.8"/>
<text x="755.20" y="412.70" font-size="10" fill="#111">S2/491</text>
</svg></body></html>
